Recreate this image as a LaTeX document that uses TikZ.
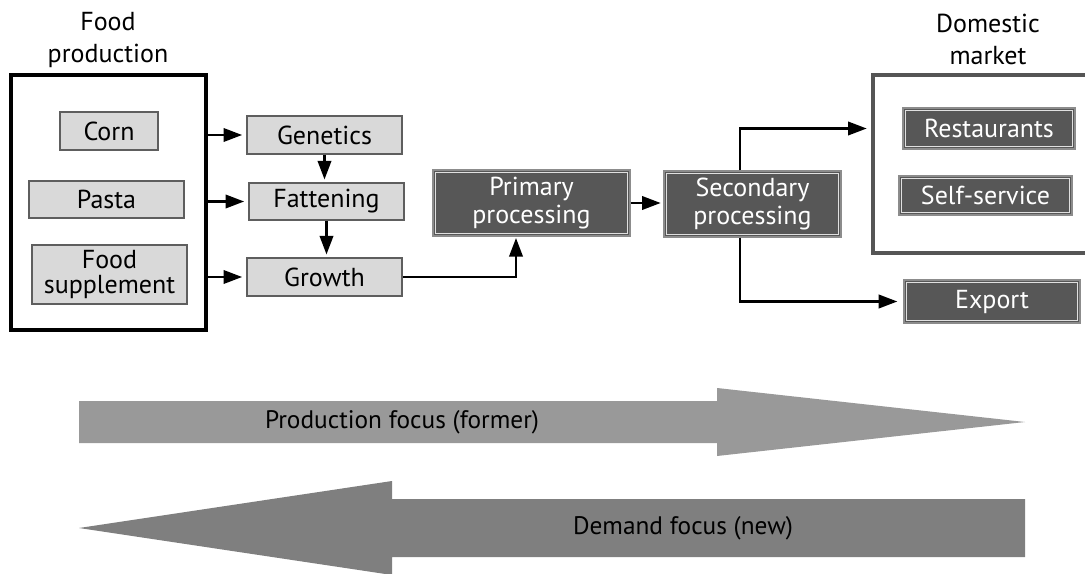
\documentclass[tikz,border=0pt]{standalone}
\usepackage{fontspec}
\setmainfont{PT Sans}
\usetikzlibrary{arrows.meta,calc}

\definecolor{lightfill}{HTML}{D9D9D9}
\definecolor{lightedge}{HTML}{5E5E5E}
\definecolor{darkfill}{HTML}{575757}
\definecolor{darkedge}{HTML}{8C8C8C}
\definecolor{frameedge}{HTML}{555555}
\definecolor{prodarrow}{HTML}{999999}
\definecolor{demarrow}{HTML}{7F7F7F}

\begin{document}
\begin{tikzpicture}[x=0.75pt,y=-0.75pt,
  every node/.style={font=\fontsize{19.5}{18.5}\selectfont, inner sep=0pt, align=center},
  boxsize/.style 2 args={minimum width=#1*0.75pt, minimum height=#2*0.75pt},
  lightbox/.style={fill=lightfill, draw=lightedge, line width=1.2pt},
  darkbox/.style={fill=darkfill, draw=darkedge, line width=0.9pt, text=white,
    font=\fontsize{19.5}{21}\selectfont,
    path picture={\draw[white!88!black, line width=0.6pt]
      ([shift={(1.9pt,1.9pt)}]path picture bounding box.south west) rectangle
      ([shift={(-1.9pt,-1.9pt)}]path picture bounding box.north east);}},
  frame/.style={line width=3.4pt},
  toplabel/.style={font=\fontsize{19.5}{24}\selectfont},
  arr/.style={-{Triangle[length=14pt,width=10pt]}, line width=2pt},
  bigarrowtext/.style={font=\fontsize{19}{20}\selectfont}]

\useasboundingbox (0,0) rectangle (1085,574);

% group frames
\node[frame, draw=black, boxsize={195}{255}] (fp) at (108.5,202.5) {};
\node[frame, draw=frameedge, boxsize={260}{178}] (dom) at (1003,164) {};

% group titles
\node[toplabel] (fplabel) at (108,40) {Food\\production};
\node[toplabel] (domlabel) at (988,39) {Domestic\\market};

% inputs
\node[lightbox, boxsize={98}{38}] (corn) at (109,131) {Corn};
\node[lightbox, boxsize={155}{37}] (pasta) at (106.5,199.5) {Pasta};
\node[lightbox, boxsize={155}{59}] (supp) at (109.5,274.5) {Food\\supplement};

% breeding stages
\node[lightbox, boxsize={155}{38}] (gen) at (324.5,135) {Genetics};
\node[lightbox, boxsize={155}{37}] (fat) at (326.5,201.5) {Fattening};
\node[lightbox, boxsize={155}{38}] (gro) at (324.5,277) {Growth};

% processing
\node[darkbox, boxsize={197}{66}] (pri) at (531.5,203) {Primary\\processing};
\node[darkbox, boxsize={177}{66}] (sec) at (752.5,204) {Secondary\\processing};

% markets
\node[darkbox, boxsize={172}{41}] (res) at (989,128.5) {Restaurants};
\node[darkbox, boxsize={173}{39}] (self) at (985.5,195.5) {Self-service};
\node[darkbox, boxsize={176}{43}] (exp) at (992,301.5) {Export};

% connectors
\draw[arr, shorten >=3pt] (fp.east |- gen.west) -- (gen.west);
\draw[arr, shorten >=3pt] (fp.east |- fat.west) -- (fat.west);
\draw[arr, shorten >=3pt] (fp.east |- gro.west) -- (gro.west);
\draw[arr, shorten >=2pt] (gen.south) -- (fat.north -| gen.south);
\draw[arr, shorten >=2pt] (fat.south) -- (gro.north -| fat.south);
\coordinate (priin) at ($(pri.south)+(-15.5,0)$);
\draw[arr, shorten >=1pt] (gro.east) -| (priin);
\draw[arr, shorten >=2pt] (pri.east) -- (pri.east -| sec.west);
\coordinate (secup) at ($(sec.north)+(-12.5,0)$);
\coordinate (secdn) at ($(sec.south)+(-12.5,0)$);
\draw[arr, shorten >=3pt] (secup) |- (dom.west |- res.west);
\draw[arr, shorten >=4.5pt] (secdn) |- (exp.west);

% focus arrows
\fill[prodarrow] (79,401) -- (717,401) -- (717,388) -- (1025,422)
  -- (717,456) -- (717,443) -- (79,443) -- cycle;
\node[bigarrowtext] (prodtext) at (402,422) {Production focus (former)};
\fill[demarrow] (1025,499) -- (392,499) -- (392,481) -- (79,528)
  -- (392,575) -- (392,557) -- (1025,557) -- cycle;
\node[bigarrowtext] (demtext) at (683,528) {Demand focus (new)};

\end{tikzpicture}
\end{document}
